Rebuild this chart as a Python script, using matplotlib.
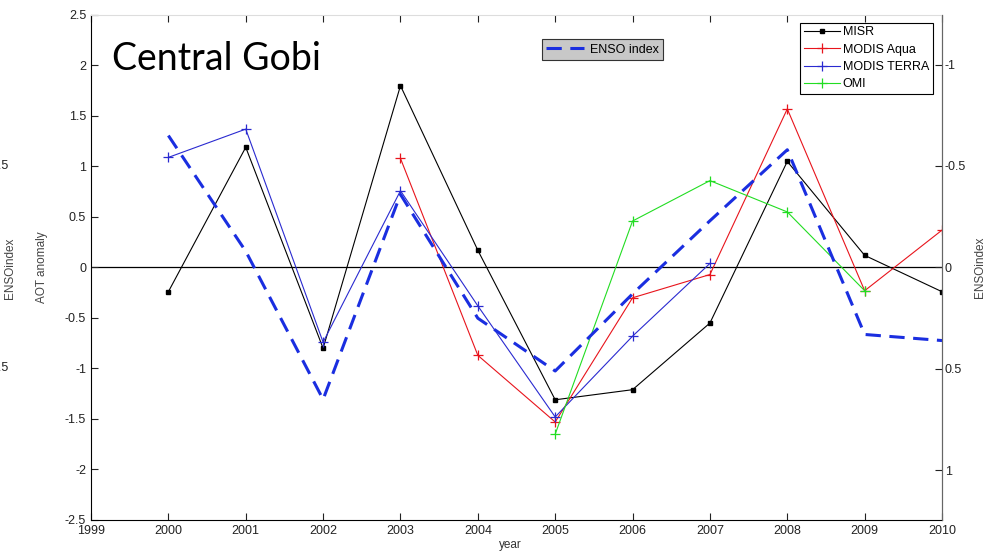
import matplotlib.pyplot as plt
import numpy as np

plt.rcParams['font.family'] = ['Liberation Sans', 'DejaVu Sans']

years = np.arange(2000, 2011)

# AOT anomalies per sensor
misr = [-0.24, 1.19, -0.80, 1.80, 0.17, -1.31, -1.21, -0.55, 1.05, 0.12, -0.24]
aqua_years = np.arange(2003, 2011)
aqua = [1.08, -0.87, -1.53, -0.30, -0.07, 1.57, -0.23, 0.37]
terra_years = np.arange(2000, 2008)
terra = [1.09, 1.37, -0.74, 0.76, -0.38, -1.48, -0.68, 0.04]
omi_years = np.arange(2005, 2010)
omi = [-1.65, 0.46, 0.86, 0.55, -0.23]

# ENSO index (right axis, reversed)
enso = [-0.65, -0.08, 0.65, -0.36, 0.25, 0.51, 0.13, -0.23, -0.58, 0.33, 0.36]

fig = plt.figure(figsize=(9.86, 5.55), dpi=100)
ax = fig.add_axes([0.0923, 0.0631, 0.8631, 0.9099])

tc = '#222222'
ax.axhline(0, color='black', lw=0.9, zorder=1)
ax.plot(years, misr, color='black', lw=0.8, marker='s', ms=2.2, label='MISR')
ax.plot(aqua_years, aqua, color='#e8141c', lw=0.8, marker='+', ms=7, mew=0.9, label='MODIS Aqua')
ax.plot(terra_years, terra, color='#2a2ad0', lw=0.8, marker='+', ms=7, mew=0.9, label='MODIS TERRA')
ax.plot(omi_years, omi, color='#22dd22', lw=0.8, marker='+', ms=7, mew=0.9, label='OMI')

ax.set_xlim(1999, 2010)
ax.set_ylim(-2.5, 2.5)
ax.set_xticks(np.arange(1999, 2011))
ax.set_yticks(np.arange(-2.5, 2.51, 0.5))
ax.set_yticklabels(['-2.5', '-2', '-1.5', '-1', '-0.5', '0', '0.5', '1', '1.5', '2', '2.5'])
ax.tick_params(direction='in', length=5, width=0.8, labelsize=9, colors=tc,
               top=True, right=True)
ax.spines['top'].set_color('#dddddd')
ax.spines['right'].set_color('#666666')
ax.set_xlabel('year', fontsize=8.5, color='#333333')
ax.xaxis.set_label_coords(0.493, -0.038)
ax.set_ylabel('AOT anomaly', fontsize=8.5, color='#444444')
ax.yaxis.set_label_coords(-0.05, 0.5)

leg = ax.legend(loc='upper right', bbox_to_anchor=(0.9965, 0.997), fontsize=9,
                handlelength=2.9, handletextpad=0.2, borderpad=0.3, labelspacing=0.42,
                fancybox=False, edgecolor='black', framealpha=1)
leg.get_frame().set_linewidth(0.8)

ax2 = ax.twinx()
ax2.plot(years, enso, color='#1a2ee0', lw=2.2, dashes=(5, 2.8), label='ENSO index')
ax2.set_ylim(1.244, -1.244)
ax2.set_yticks([-1, -0.5, 0, 0.5, 1])
ax2.set_yticklabels(['-1', '-0.5', '0', '0.5', '1'])
ax2.tick_params(direction='in', length=5, width=0.8, labelsize=9, colors=tc, pad=2)
for s in ['top', 'left', 'bottom']:
    ax2.spines[s].set_visible(False)
ax2.spines['right'].set_color('#666666')
ax2.set_ylabel('ENSOindex', fontsize=8.5, color='#444444')
ax2.yaxis.set_label_coords(1.037, 0.5)

leg2 = ax2.legend(loc='upper left', bbox_to_anchor=(0.5225, 0.964), fontsize=9,
                  handlelength=3.0, handletextpad=0.5, borderpad=0.35,
                  fancybox=False, edgecolor='#333333', facecolor='#c8c8c8', framealpha=1)
leg2.get_frame().set_linewidth(0.8)

ax.text(0.025, 0.948, 'Central Gobi', transform=ax.transAxes, fontsize=27,
        family=['Lato', 'DejaVu Sans'], va='top', ha='left')

# remnants of the neighbouring panel's axis
fig.text(0.010, 1 - 268 / 555, 'ENSOindex', rotation=90, fontsize=8.5,
         color='#444444', ha='center', va='center')
fig.text(9 / 986, 1 - 166 / 555, '-0.5', fontsize=9, color=tc, ha='right', va='center')
fig.text(9 / 986, 1 - 368 / 555, '0.5', fontsize=9, color=tc, ha='right', va='center')

fig.savefig('out.png', dpi=100)
